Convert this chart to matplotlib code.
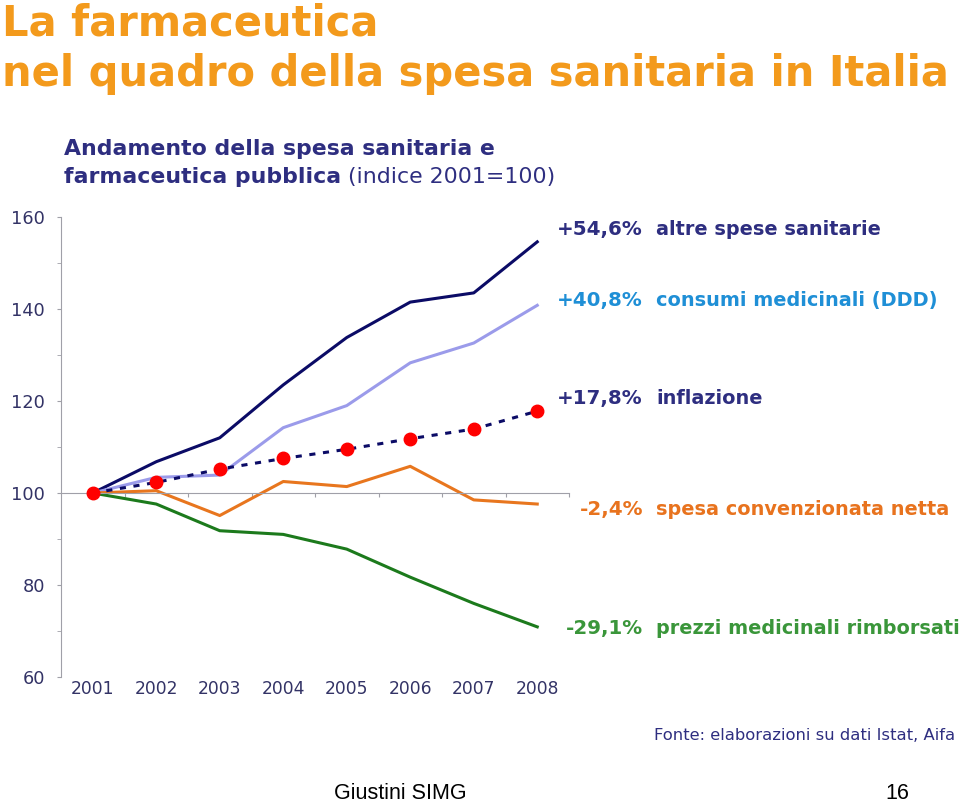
import matplotlib
matplotlib.use("Agg")
import matplotlib.pyplot as plt
from matplotlib.ticker import MultipleLocator

plt.rcParams["font.family"] = ["DejaVu Sans"]

# ---- data (indice 2001 = 100) ----
years = ["2001", "2002", "2003", "2004", "2005", "2006", "2007", "2008"]
altre_spese = [100, 106.8, 112.0, 123.5, 133.8, 141.5, 143.5, 154.6]
consumi_ddd = [100, 103.4, 103.9, 114.2, 119.0, 128.3, 132.6, 140.8]
inflazione = [100, 102.3, 105.2, 107.5, 109.5, 111.8, 113.9, 117.8]
convenzionata = [100, 100.5, 95.1, 102.5, 101.4, 105.8, 98.5, 97.6]
prezzi = [100, 97.6, 91.8, 91.0, 87.8, 81.7, 76.0, 70.9]

end_pct = ["+54,6%", "+40,8%", "+17,8%", "-2,4%", "-29,1%"]
end_names = ["altre spese sanitarie", "consumi medicinali (DDD)", "inflazione",
             "spesa convenzionata netta", "prezzi medicinali rimborsati"]

# ---- layout / style ----
NAVY = "#0b0b66"
TEXT_NAVY = "#2e2e80"
label_colors = ["#2e2e80", "#1f8fd6", "#2e2e80", "#e8731e", "#3a963a"]
label_y = [157.2, 141.8, 120.5, 96.4, 70.5]
GREY = "#a0a0a8"

W, H = 960, 805
fig = plt.figure(figsize=(W / 100, H / 100), dpi=100)
ax = fig.add_axes([61 / W, 1 - 677 / H, 508 / W, 460 / H])

x = list(range(1, len(years) + 1))
ax.plot(x, altre_spese, color=NAVY, lw=2.2)
ax.plot(x, consumi_ddd, color="#9b9bea", lw=2.2)
ax.plot(x, convenzionata, color="#e8761e", lw=2.2)
ax.plot(x, prezzi, color="#1c7a1c", lw=2.2)
ax.plot(x, inflazione, color=NAVY, lw=2.2, ls=(0, (2.0, 2.5)),
        marker="o", ms=9, mfc="#ff0000", mec="#ff0000", zorder=5)

ax.set_xlim(0.5, 8.5)
ax.set_ylim(60, 160)

for s in ("top", "right"):
    ax.spines[s].set_visible(False)
ax.spines["left"].set_color(GREY)
ax.spines["bottom"].set_color(GREY)
ax.spines["bottom"].set_position(("data", 100))

ax.set_xticks([i + 0.5 for i in x])
ax.set_xticklabels([])
ax.tick_params(axis="x", direction="out", length=3, color=GREY)

ax.yaxis.set_major_locator(MultipleLocator(20))
ax.yaxis.set_minor_locator(MultipleLocator(10))
ax.tick_params(axis="y", which="both", direction="out", length=3, color=GREY,
               labelsize=12.8, labelcolor="#333366", pad=8.5)

sec = ax.secondary_xaxis("bottom")
sec.set_xticks(x, labels=years)
sec.spines["bottom"].set_visible(False)
sec.tick_params(length=0, pad=2, labelsize=12.3, labelcolor="#333366")

# end-of-line labels
for pct, name, col, yv in zip(end_pct, end_names, label_colors, label_y):
    ax.text(9.665, yv, pct, color=col, fontsize=14.3, fontweight="bold",
            ha="right", va="center", clip_on=False)
    ax.text(9.87, yv, name, color=col, fontsize=13.9, fontweight="bold",
            ha="left", va="center", clip_on=False)

# titles
fig.text(2 / W, 1 - 35 / H, "La farmaceutica", color="#f39a1c", fontsize=30,
         fontweight="bold", ha="left", va="baseline")
fig.text(2 / W, 1 - 86 / H, "nel quadro della spesa sanitaria in Italia",
         color="#f39a1c", fontsize=30, fontweight="bold", ha="left", va="baseline")
fig.text(64 / W, 1 - 155 / H, "Andamento della spesa sanitaria e",
         color=TEXT_NAVY, fontsize=15.8, fontweight="bold", ha="left", va="baseline")
t = fig.text(64 / W, 1 - 183 / H, "farmaceutica pubblica", color=TEXT_NAVY,
             fontsize=15.8, fontweight="bold", ha="left", va="baseline")
fig.canvas.draw()
bb = t.get_window_extent()
fig.text((bb.x1 + 7) / W, 1 - 183 / H, "(indice 2001=100)", color=TEXT_NAVY,
         fontsize=15.8, ha="left", va="baseline")

fig.text(955 / W, 1 - 735 / H, "Fonte: elaborazioni su dati Istat, Aifa",
         color="#2e2e80", fontsize=11.8, ha="right", va="center")
fig.text(400 / W, 1 - 799 / H, "Giustini SIMG", color="black", fontsize=15.5,
         family="Liberation Sans", ha="center", va="baseline")
fig.text(897 / W, 1 - 799 / H, "16", color="black", fontsize=15.5,
         family="Liberation Sans", ha="center", va="baseline")

fig.savefig("out.png", dpi=100)
